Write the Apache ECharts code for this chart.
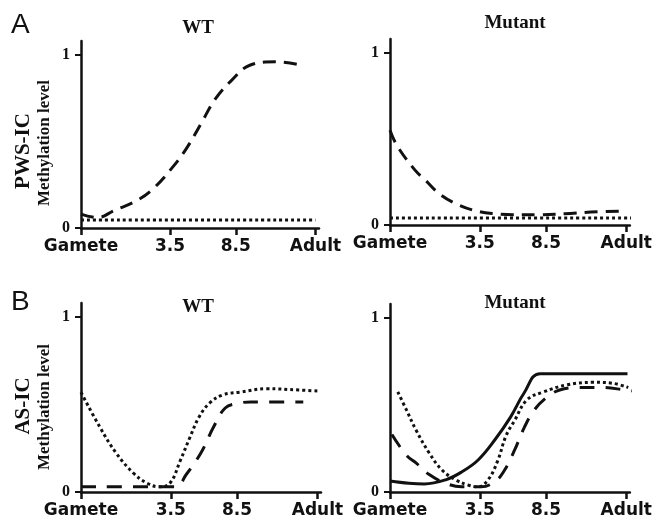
<!DOCTYPE html>
<html>
<head>
<meta charset="utf-8">
<script src="https://cdn.jsdelivr.net/npm/echarts@6/dist/echarts.min.js"></script>
<style>
  html, body { margin: 0; padding: 0; background: #fff; }
  #main { width: 655px; height: 521px; }
</style>
</head>
<body>
<div id="main"></div>
<script>
// x is development on a 0..100 scale; tick positions on that scale
const tickValues = [0, 38, 66, 100];
const tickNames = ['Gamete', '3.5', '8.5', 'Adult'];
const yTicks = [0, 1];

// panel A, WT (PWS-IC)
const aWtDashed = [[0,0.08],[7,0.06],[14,0.1],[24,0.16],[31,0.23],[39,0.35],[45,0.46],[51.5,0.61],[57,0.74],[64,0.85],[72,0.94],[83,0.96],[94,0.94]];
const aWtDotted = [[0,0.046],[100,0.046]];
// panel A, Mutant
const aMutDashed = [[0,0.55],[3,0.46],[10.5,0.32],[15,0.26],[21,0.18],[28.5,0.12],[37.6,0.078],[45,0.065],[52,0.06],[63,0.06],[74,0.065],[85,0.075],[97,0.08]];
const aMutDotted = [[0,0.04],[102,0.04]];
// panel B, WT (AS-IC)
const bWtDotted = [[0,0.57],[8,0.37],[15,0.22],[22,0.11],[28,0.05],[33,0.03],[37.6,0.05],[42,0.18],[46,0.31],[50,0.43],[54.5,0.51],[60,0.555],[67,0.57],[78.5,0.59],[92,0.583],[100,0.577]];
const bWtDashed = [[0,0.03],[40,0.03],[44.5,0.1],[51,0.23],[56,0.37],[61,0.48],[66,0.505],[72,0.515],[94,0.515]];
// panel B, Mutant
const bMutSolid = [[0,0.063],[8,0.05],[14.5,0.046],[23.6,0.07],[30.3,0.115],[37.3,0.184],[44.4,0.3],[51,0.43],[56.8,0.57],[63.5,0.68],[100.5,0.68]];
const bMutDotted = [[3.3,0.575],[7,0.47],[11,0.356],[16.6,0.224],[22,0.126],[27.8,0.07],[33,0.04],[37.3,0.03],[41.5,0.07],[45.6,0.18],[49,0.32],[52.7,0.41],[58,0.53],[65,0.575],[74.7,0.615],[86,0.63],[94,0.625],[100.8,0.6]];
const bMutDashed = [[0.8,0.33],[7,0.21],[11,0.167],[16.6,0.1],[23.6,0.05],[30.3,0.03],[38.6,0.03],[44.4,0.06],[48.5,0.126],[52.7,0.24],[56.8,0.37],[61,0.47],[66.4,0.545],[71.8,0.586],[78.8,0.6],[90,0.6],[99.6,0.586],[103,0.58]];

const ink = '#111';
const serif = 'Liberation Serif';

var grids = [
  { left: 81, top: 41, width: 238, height: 187 },
  { left: 390, top: 39, width: 243, height: 186 },
  { left: 81, top: 303, width: 240, height: 189 },
  { left: 390, top: 304, width: 244, height: 188 }
];

var xAxes = [], yAxes = [];
grids.forEach(function (g, i) {
  xAxes.push({
    type: 'value', gridIndex: i, min: 0, max: 101.5,
    axisLine: { lineStyle: { color: ink, width: 2.5 } },
    axisTick: { customValues: tickValues, length: 7, lineStyle: { color: ink, width: 2.5 } },
    axisLabel: {
      customValues: tickValues, margin: 10,
      color: ink, fontFamily: 'DejaVu Sans', fontWeight: 'bold', fontSize: 17,
      formatter: function (v) { return tickNames[tickValues.indexOf(v)]; }
    },
    splitLine: { show: false }
  });
  yAxes.push({
    type: 'value', gridIndex: i, min: 0, max: 1.08,
    axisLine: { show: true, lineStyle: { color: ink, width: 2.5 } },
    axisTick: { show: true, customValues: yTicks, length: 6, lineStyle: { color: ink, width: 2 } },
    axisLabel: { customValues: yTicks, margin: 11, color: ink, fontFamily: serif, fontWeight: 'bold', fontSize: 16 },
    splitLine: { show: false }
  });
});

function curve(idx, data, style) {
  var ls = { color: ink, width: 3, cap: 'butt' };
  if (style === 'dashed') ls.type = [13, 8];
  else if (style === 'dashedLong') ls.type = [15, 11];
  else if (style === 'dotted') ls.type = [3, 3];
  else ls.type = 'solid';
  return {
    type: 'line', xAxisIndex: idx, yAxisIndex: idx, data: data,
    smooth: 0.4, showSymbol: false, symbol: 'none', clip: false,
    lineStyle: ls
  };
}

var series = [
  curve(0, aWtDashed, 'dashed'),
  curve(0, aWtDotted, 'dotted'),
  curve(1, aMutDashed, 'dashed'),
  curve(1, aMutDotted, 'dotted'),
  curve(2, bWtDotted, 'dotted'),
  curve(2, bWtDashed, 'dashedLong'),
  curve(3, bMutSolid, 'solid'),
  curve(3, bMutDotted, 'dotted'),
  curve(3, bMutDashed, 'dashedLong')
];

function txt(x, y, text, font, rot, align) {
  return {
    type: 'text', x: x, y: y, rotation: rot || 0,
    style: { text: text, font: font, fill: ink, align: align || 'center', verticalAlign: 'middle' }
  };
}

var graphics = [
  txt(11, 25, 'A', '28px "Liberation Sans"', 0, 'left'),
  txt(11, 302, 'B', '28px "Liberation Sans"', 0, 'left'),
  txt(198, 28, 'WT', 'bold 19px "Liberation Serif"'),
  txt(515, 23, 'Mutant', 'bold 19px "Liberation Serif"'),
  txt(198, 307, 'WT', 'bold 19px "Liberation Serif"'),
  txt(515, 303, 'Mutant', 'bold 19px "Liberation Serif"'),
  txt(24, 151, 'PWS-IC', 'bold 21px "Liberation Serif"', Math.PI / 2),
  txt(45, 143, 'Methylation level', 'bold 17px "Liberation Serif"', Math.PI / 2),
  txt(24, 406, 'AS-IC', 'bold 21px "Liberation Serif"', Math.PI / 2),
  txt(45, 407, 'Methylation level', 'bold 17px "Liberation Serif"', Math.PI / 2)
];

var myChart = echarts.init(document.getElementById('main'));
myChart.setOption({
  animation: false,
  backgroundColor: '#fff',
  grid: grids,
  xAxis: xAxes,
  yAxis: yAxes,
  series: series,
  graphic: graphics
});
</script>
</body>
</html>
